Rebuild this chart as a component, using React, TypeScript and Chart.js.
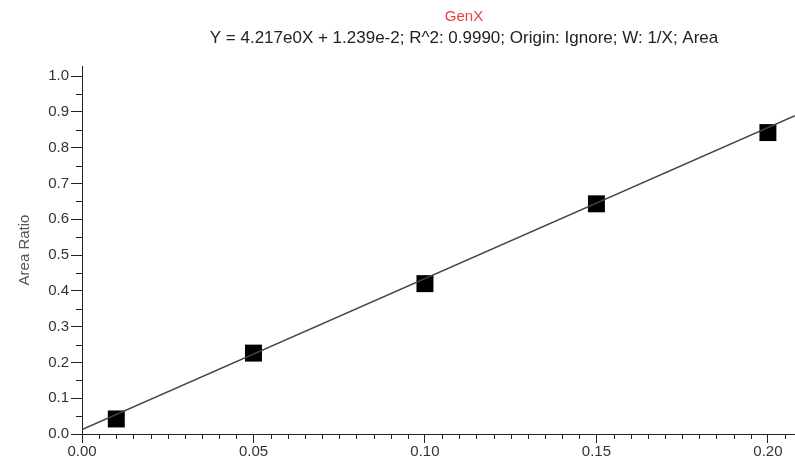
import React, { useEffect, useRef } from "react";
import { Chart, registerables } from "chart.js";

Chart.register(...registerables);

const titleText = "GenX";
const subtitleText = "Y = 4.217e0X + 1.239e-2; R^2: 0.9990; Origin: Ignore; W: 1/X; Area";
const yAxisTitle = "Area Ratio";

const concX = [0.01, 0.05, 0.1, 0.15, 0.2];
const areaRatio = [0.042, 0.226, 0.42, 0.643, 0.842];

const fitX = [0, 0.2079];
const fitY = [0.0124, 0.889];

const xTicks = [0, 0.05, 0.1, 0.15, 0.2];
const yTicks = [0, 0.1, 0.2, 0.3, 0.4, 0.5, 0.6, 0.7, 0.8, 0.9, 1.0];
const xMinorStep = 0.005;
const yMinorStep = 0.05;

const FONT = "Arial, 'Liberation Sans', sans-serif";

const minorTicksPlugin = {
  id: "minorTicks",
  afterDraw(chart: any) {
    const ctx = chart.ctx;
    const xs = chart.scales.x;
    const ys = chart.scales.y;
    ctx.save();
    ctx.strokeStyle = "#222";
    ctx.lineWidth = 1;
    ctx.beginPath();
    const nx = Math.floor(xs.max / xMinorStep + 1e-6);
    for (let i = 0; i <= nx; i++) {
      if (i % 10 === 0) continue;
      const px = Math.round(xs.getPixelForValue(i * xMinorStep)) + 0.5;
      ctx.moveTo(px, xs.top);
      ctx.lineTo(px, xs.top + 5);
    }
    const ny = Math.floor(ys.max / yMinorStep + 1e-6);
    for (let i = 0; i <= ny; i++) {
      if (i % 2 === 0) continue;
      const py = Math.round(ys.getPixelForValue(i * yMinorStep)) + 0.5;
      ctx.moveTo(ys.right - 6, py);
      ctx.lineTo(ys.right, py);
    }
    ctx.stroke();
    ctx.restore();
  },
};

const headerPlugin = {
  id: "header",
  afterDraw(chart: any) {
    const ctx = chart.ctx;
    ctx.save();
    ctx.textAlign = "center";
    ctx.textBaseline = "middle";
    const cx = 464;
    ctx.fillStyle = "#e8413f";
    ctx.font = `15px ${FONT}`;
    ctx.fillText(titleText, cx, 17);
    ctx.fillStyle = "#222";
    ctx.font = `17px ${FONT}`;
    ctx.fillText(subtitleText, cx, 38);
    ctx.restore();
  },
};

export default function App() {
  const ref = useRef<HTMLCanvasElement>(null);

  useEffect(() => {
    document.body.style.margin = "0";
    const chart = new Chart(ref.current as HTMLCanvasElement, {
      type: "scatter",
      data: {
        datasets: [
          {
            type: "line",
            label: "fit",
            data: fitX.map((x, i) => ({ x, y: fitY[i] })),
            borderColor: "#444",
            borderWidth: 1.5,
            pointRadius: 0,
            fill: false,
          },
          {
            type: "scatter",
            label: "Area Ratio",
            data: concX.map((x, i) => ({ x, y: areaRatio[i] })),
            pointStyle: "rect",
            pointRadius: 12,
            pointHoverRadius: 12,
            backgroundColor: "#000",
            borderColor: "#000",
            borderWidth: 0,
          },
        ],
      },
      options: {
        animation: false,
        responsive: false,
        maintainAspectRatio: false,
        layout: { autoPadding: false, padding: { top: 66, right: 0, left: 0, bottom: 0 } },
        plugins: {
          legend: { display: false },
          title: { display: false },
          tooltip: { enabled: false },
        },
        scales: {
          x: {
            type: "linear",
            min: 0,
            max: 0.2079,
            afterFit: (s: any) => {
              s.height = 35;
              s.paddingLeft = 0;
              s.paddingRight = 0;
            },
            afterBuildTicks: (s: any) => {
              s.ticks = xTicks.map((v) => ({ value: v }));
            },
            grid: {
              display: true,
              drawOnChartArea: false,
              drawTicks: true,
              tickLength: 9,
              color: "#222",
              lineWidth: 1,
            },
            border: { display: true, color: "#222", width: 1 },
            ticks: {
              padding: 0,
              color: "#333",
              font: { family: FONT, size: 15 },
              maxRotation: 0,
              callback: (v: any) => Number(v).toFixed(2),
            },
          },
          y: {
            type: "linear",
            min: 0,
            max: 1.028,
            afterFit: (s: any) => {
              s.width = 82;
              s.paddingTop = 0;
              s.paddingBottom = 0;
            },
            afterBuildTicks: (s: any) => {
              s.ticks = yTicks.map((v) => ({ value: v }));
            },
            grid: {
              display: true,
              drawOnChartArea: false,
              drawTicks: true,
              tickLength: 11,
              color: "#222",
              lineWidth: 1,
            },
            border: { display: true, color: "#222", width: 1 },
            title: {
              display: true,
              text: yAxisTitle,
              color: "#555",
              font: { family: FONT, size: 15 },
              padding: { top: 16, bottom: 0 },
            },
            ticks: {
              padding: 2,
              color: "#333",
              font: { family: FONT, size: 15 },
              callback: (v: any) => Number(v).toFixed(1),
            },
          },
        },
      },
      plugins: [minorTicksPlugin, headerPlugin],
    });
    return () => chart.destroy();
  }, []);

  return (
    <div style={{ width: 795, height: 469 }}>
      <canvas ref={ref} width={795} height={469} style={{ width: 795, height: 469 }} />
    </div>
  );
}
